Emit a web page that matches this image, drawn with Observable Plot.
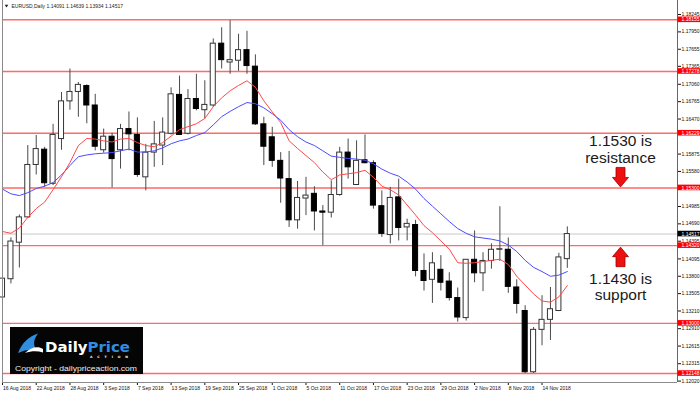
<!DOCTYPE html>
<html><head><meta charset="utf-8">
<script src="https://cdn.jsdelivr.net/npm/d3@7"></script>
<script src="https://cdn.jsdelivr.net/npm/@observablehq/plot@0.6"></script>
<style>
html,body{margin:0;padding:0;background:#fff;}
#chart{position:relative;width:700px;height:393px;overflow:hidden;}
</style></head><body><div id="chart"></div>
<script>
const symbolName = "EURUSD", timeframe = "Daily";
const dates = ["16 Aug","17 Aug","20 Aug","21 Aug","22 Aug","23 Aug","24 Aug","27 Aug","28 Aug","29 Aug","30 Aug","31 Aug",
 "3 Sep","4 Sep","5 Sep","6 Sep","7 Sep","10 Sep","11 Sep","12 Sep","13 Sep","14 Sep","17 Sep","18 Sep","19 Sep","20 Sep","21 Sep","24 Sep","25 Sep","26 Sep","27 Sep","28 Sep",
 "1 Oct","2 Oct","3 Oct","4 Oct","5 Oct","8 Oct","9 Oct","10 Oct","11 Oct","12 Oct","15 Oct","16 Oct","17 Oct","18 Oct","19 Oct","22 Oct","23 Oct","24 Oct","25 Oct","26 Oct","29 Oct","30 Oct","31 Oct",
 "1 Nov","2 Nov","5 Nov","6 Nov","7 Nov","8 Nov","9 Nov","12 Nov","13 Nov","14 Nov","15 Nov","16 Nov","19 Nov"];
const open = [1.1344,1.1375,1.1437,1.1480,1.1569,1.1595,1.1537,1.1613,1.1677,1.1693,
 1.1703,1.1670,1.1594,1.1617,1.1594,1.1630,1.1620,1.1548,1.1590,1.1602,
 1.1622,1.1688,1.1622,1.1681,1.1662,1.1670,1.1775,1.1743,1.1746,1.1764,
 1.1736,1.1638,1.1616,1.1576,1.1545,1.1475,1.1512,1.1520,1.1490,1.1488,
 1.1518,1.1590,1.1535,1.1577,1.1572,1.1499,1.1450,1.1514,1.1463,1.1467,
 1.1389,1.1374,1.1391,1.1371,1.1343,1.1309,1.1408,1.1385,1.1406,1.1425,
 1.1425,1.1361,1.1321,1.1217,1.1289,1.1306,1.1321,1.14091];
const high = [1.1409,1.1445,1.1484,1.1602,1.1619,1.1599,1.1638,1.1692,1.1732,1.1709,
 1.1705,1.1689,1.1630,1.1623,1.1638,1.1659,1.1649,1.1604,1.1643,1.1649,
 1.1700,1.1720,1.1697,1.1723,1.1712,1.1783,1.1802,1.1814,1.1791,1.1796,
 1.1756,1.1650,1.1633,1.1590,1.1592,1.1541,1.1548,1.1532,1.1500,1.1542,
 1.1599,1.1613,1.1610,1.1620,1.1576,1.1525,1.1531,1.1545,1.1477,1.1475,
 1.1418,1.1420,1.1415,1.1386,1.1360,1.1408,1.1457,1.1420,1.1435,1.1498,
 1.1445,1.1374,1.1330,1.1293,1.1347,1.1361,1.1419,1.14639];
const low = [1.1336,1.1367,1.1394,1.1478,1.1552,1.1531,1.1534,1.1594,1.1662,1.1650,
 1.1639,1.1593,1.1589,1.1530,1.1562,1.1593,1.1548,1.1525,1.1565,1.1568,
 1.1620,1.1619,1.1620,1.1661,1.1647,1.1667,1.1732,1.1723,1.1728,1.1723,
 1.1636,1.1568,1.1565,1.1504,1.1463,1.1460,1.1483,1.1457,1.1432,1.1479,
 1.1516,1.1545,1.1534,1.1571,1.1494,1.1446,1.1435,1.1440,1.1440,1.1379,
 1.1355,1.1334,1.1355,1.1338,1.1302,1.1304,1.1369,1.1354,1.1392,1.1405,
 1.1351,1.1316,1.1215,1.1215,1.1262,1.1271,1.1320,1.13934];
const close = [1.1376,1.1439,1.1480,1.1569,1.1596,1.1538,1.1620,1.1677,1.1693,1.1705,
 1.1670,1.1600,1.1617,1.1579,1.1630,1.1621,1.1552,1.1590,1.1604,1.1624,
 1.1689,1.1620,1.1681,1.1664,1.1671,1.1775,1.1747,1.1747,1.1764,1.1737,
 1.1638,1.1600,1.1576,1.1546,1.1475,1.1513,1.1517,1.1490,1.1488,1.1518,
 1.1590,1.1565,1.1576,1.1572,1.1500,1.1452,1.1513,1.1462,1.1469,1.1389,
 1.1372,1.1402,1.1369,1.1343,1.1310,1.1408,1.1385,1.1406,1.1425,1.1426,
 1.1362,1.1333,1.1217,1.1289,1.1306,1.1324,1.1412,1.14517];
const maFast = [1.1456,1.1453,1.1462,1.1480,1.1495,1.1506,1.1527,1.1549,1.1573,1.1602,
 1.1614,1.1613,1.1610,1.1608,1.1613,1.1614,1.1607,1.1602,1.1600,1.1607,
 1.1618,1.1629,1.1634,1.1639,1.1648,1.1668,1.1683,1.1695,1.1704,1.1712,
 1.1701,1.1678,1.1659,1.1641,1.1610,1.1597,1.1585,1.1573,1.1557,1.1544,
 1.1552,1.1554,1.1556,1.1560,1.1548,1.1533,1.1527,1.1518,1.1501,1.1484,
 1.1466,1.1454,1.1440,1.1426,1.1403,1.1402,1.1403,1.1405,1.1407,1.1409,
 1.1400,1.1380,1.1365,1.1350,1.1338,1.1336,1.1345,1.1364];
const maSlow = [1.1528,1.1520,1.1517,1.1522,1.1529,1.1533,1.1539,1.1552,1.1568,1.1583,
 1.1586,1.1588,1.1589,1.1590,1.1593,1.1596,1.1591,1.1591,1.1593,1.1598,
 1.1605,1.1610,1.1613,1.1619,1.1624,1.1637,1.1651,1.1660,1.1668,1.1675,
 1.1673,1.1666,1.1656,1.1645,1.1629,1.1617,1.1608,1.1602,1.1593,1.1584,
 1.1582,1.1580,1.1579,1.1577,1.1571,1.1562,1.1555,1.1550,1.1540,1.1528,
 1.1512,1.1499,1.1486,1.1473,1.1461,1.1453,1.1447,1.1445,1.1443,1.1440,
 1.1433,1.1422,1.1407,1.1395,1.1388,1.1380,1.1382,1.1388];
const levels = [1.18155, 1.17278, 1.16229, 1.15300, 1.14320, 1.13000, 1.12148];
const currentPrice = 1.14517;
const yTicks = [1.18245,1.17950,1.17655,1.17365,1.17060,1.16765,1.16470,1.15875,1.15580,1.14985,
 1.14690,1.14395,1.14095,1.13800,1.13505,1.13210,1.12910,1.12615,1.12315,1.12020];
const yearLabel = "2018";
const resistanceNote = {level: 1.15300, lines: ["1.1530 is", "resistance"]};
const supportNote = {level: 1.14320, lines: ["1.1430 is", "support"]};

const bars = dates.map((d, i) => ({i, date: d, o: open[i], h: high[i], l: low[i], c: close[i], fast: maFast[i], slow: maSlow[i]}));
const last = bars[bars.length - 1];
const FONT = "'Liberation Sans', Arial, sans-serif";
const xDomain = [0, 80.07];
const yDomain = [1.11996, 1.18483];
const fmt5 = v => v.toFixed(5);
const xTicks = bars.filter(b => b.i % 4 === 0).map(b => b.i);

const arrowDown = {draw(ctx) {
  ctx.moveTo(-4.5, -20.5); ctx.lineTo(4.5, -20.5); ctx.lineTo(4.5, -10.5); ctx.lineTo(8, -10.5);
  ctx.lineTo(0, -1); ctx.lineTo(-8, -10.5); ctx.lineTo(-4.5, -10.5); ctx.closePath();
}};
const arrowUp = {draw(ctx) {
  ctx.moveTo(-4.5, 21); ctx.lineTo(4.5, 21); ctx.lineTo(4.5, 11); ctx.lineTo(8, 11);
  ctx.lineTo(0, 1.5); ctx.lineTo(-8, 11); ctx.lineTo(-4.5, 11); ctx.closePath();
}};
const triDown = {draw(ctx) { ctx.moveTo(-1.8, -1.2); ctx.lineTo(1.8, -1.2); ctx.lineTo(0, 1.4); ctx.closePath(); }};

const noteText = (note, k, dy) => Plot.text([note], {y: "level", frameAnchor: "right", dx: -57, dy,
  text: d => d.lines[k], textAnchor: "middle", lineAnchor: "middle", fontSize: 15.5, fill: "#1a1a1a", fontFamily: FONT});

const svg = Plot.plot({
  width: 700, height: 393,
  marginLeft: 2, marginRight: 23, marginTop: 0, marginBottom: 11,
  style: {fontFamily: FONT, fontSize: "5px", background: "#fff", color: "#111", overflow: "visible"},
  x: {type: "linear", domain: xDomain, ticks: xTicks, tickFormat: i => dates[i] + " " + yearLabel, tickSize: 3, tickPadding: 0.5, label: null},
  y: {type: "linear", domain: yDomain, axis: "right", ticks: yTicks, tickFormat: fmt5, tickSize: 3, tickPadding: 1, label: null},
  marks: [
    Plot.ruleY(levels, {stroke: "#ff6a6a", strokeWidth: 1.4}),
    Plot.ruleY([currentPrice], {stroke: "#c8c8c8", strokeWidth: 1}),
    Plot.ruleX(bars, {x: "i", y1: "l", y2: "h", stroke: "#4a4a4a", strokeWidth: 1}),
    Plot.rect(bars.filter(b => b.c >= b.o), {x1: d => d.i - 0.3, x2: d => d.i + 0.3, y1: "o", y2: "c", fill: "#fff", stroke: "#333", strokeWidth: 1}),
    Plot.rect(bars.filter(b => b.c < b.o), {x1: d => d.i - 0.3, x2: d => d.i + 0.3, y1: "o", y2: "c", fill: "#000", stroke: "#000", strokeWidth: 1}),
    Plot.line(bars, {x: "i", y: "slow", stroke: "#4b4bff", strokeWidth: 1}),
    Plot.line(bars, {x: "i", y: "fast", stroke: "#ff4848", strokeWidth: 1}),
    Plot.ruleX([xDomain[0]], {stroke: "#8a8a8a"}),
    Plot.ruleX([xDomain[1]], {stroke: "#666"}),
    Plot.ruleY([yDomain[0]], {stroke: "#8a8a8a"}),
    Plot.rect(levels, {x1: xDomain[1], x2: xDomain[1], y1: d => d, y2: d => d, insetLeft: 0.5, insetRight: -23, insetTop: -2.8, insetBottom: -2.8, fill: "#ff0000"}),
    Plot.text(levels, {x: xDomain[1], y: d => d, text: fmt5, dx: 4, textAnchor: "start", fill: "#fff", fontSize: 5}),
    Plot.rect([currentPrice], {x1: xDomain[1], x2: xDomain[1], y1: d => d, y2: d => d, insetLeft: 0.5, insetRight: -23, insetTop: -2.8, insetBottom: -2.8, fill: "#000"}),
    Plot.text([currentPrice], {x: xDomain[1], y: d => d, text: fmt5, dx: 4, textAnchor: "start", fill: "#fff", fontSize: 5}),
    Plot.dot([last], {frameAnchor: "top-left", dx: 4, dy: 5.5, symbol: triDown, fill: "#222", stroke: "none"}),
    Plot.text([last], {frameAnchor: "top-left", dx: 9, dy: 5.7, textAnchor: "start", lineAnchor: "middle", fontSize: 5, fill: "#222",
      text: d => `${symbolName},${timeframe} ${fmt5(d.o)} ${fmt5(d.h)} ${fmt5(d.l)} ${fmt5(d.c)}`}),
    Plot.dot([resistanceNote], {y: "level", frameAnchor: "right", dx: -57, symbol: arrowDown, fill: "#ec1010", stroke: "#a00000", strokeWidth: 0.8}),
    Plot.dot([supportNote], {y: "level", frameAnchor: "right", dx: -57, symbol: arrowUp, fill: "#ec1010", stroke: "#a00000", strokeWidth: 0.8}),
    noteText(resistanceNote, 0, -47.3),
    noteText(resistanceNote, 1, -29.6),
    noteText(supportNote, 0, 33),
    noteText(supportNote, 1, 49)
  ]
});

const s = d3.select(svg);
s.selectAll('g[aria-label="x-axis"] text, g[aria-label="x-axis tick label"] text').attr("text-anchor", "start").attr("dx", 0.5);

// watermark logo
const g = s.append("g").attr("aria-label", "logo").attr("text-anchor", "start");
g.append("rect").attr("x", 10).attr("y", 327).attr("width", 133).attr("height", 47).attr("fill", "#050505");
g.append("path").attr("d", "M18,353 C22,343 29,336 38,333.5 C33,340 33,346 37,350 C30,349 24,350 18,353 Z").attr("fill", "#2f8ee0");
g.append("path").attr("d", "M25,353 C31,347 38,346 43,349 L43,352.5 C37,350.5 31,351 25,353 Z").attr("fill", "#ffffff");
const t = g.append("text").attr("x", 45).attr("y", 351.5).attr("text-anchor", "start").attr("font-family", "'DejaVu Sans', sans-serif").attr("font-weight", "bold").attr("font-size", 14)
  .attr("textLength", 85).attr("lengthAdjust", "spacingAndGlyphs");
t.append("tspan").attr("fill", "#fff").text("Daily");
t.append("tspan").attr("fill", "#2f8ee0").text("Price");
g.append("text").attr("x", 90).attr("y", 357.5).attr("text-anchor", "start").attr("font-family", "'DejaVu Sans', sans-serif").attr("font-weight", "bold").attr("font-size", 3.2)
  .attr("fill", "#fff").attr("textLength", 38).text("ACTION");
g.append("text").attr("x", 15).attr("y", 371).attr("text-anchor", "start").attr("font-family", FONT).attr("font-size", 7.6)
  .attr("fill", "#eee").attr("textLength", 122).attr("lengthAdjust", "spacingAndGlyphs").text("Copyright - dailypriceaction.com");

document.getElementById("chart").appendChild(svg);
</script></body></html>
